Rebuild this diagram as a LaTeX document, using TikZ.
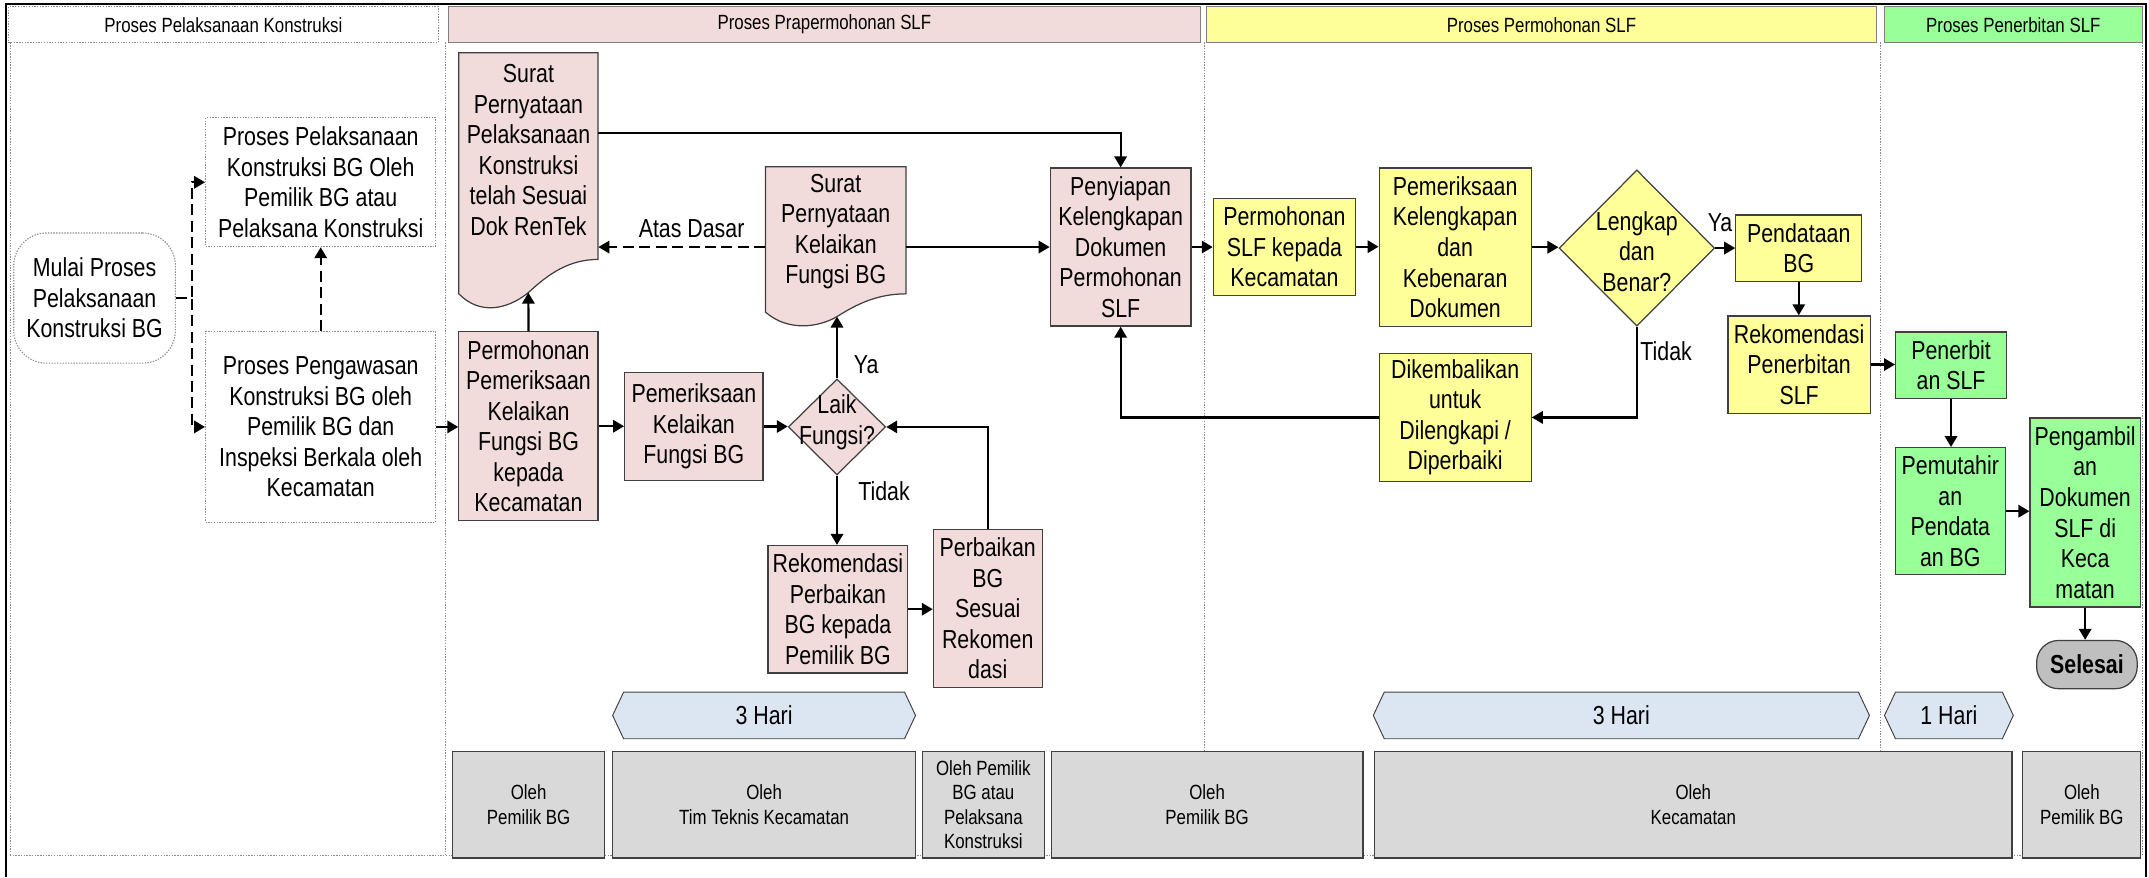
\documentclass[tikz,border=0pt]{standalone}
\usepackage{fontspec}
\setmainfont{Liberation Sans}[FakeStretch=0.82]
\usetikzlibrary{shapes.geometric,arrows.meta,calc}
\definecolor{pinkf}{HTML}{F2DCDB}
\definecolor{yelf}{HTML}{FFFF99}
\definecolor{grnf}{HTML}{99FF99}
\definecolor{grayf}{HTML}{D9D9D9}
\definecolor{hexf}{HTML}{DCE6F2}
\definecolor{bord}{HTML}{404040}
\definecolor{hdrbord}{HTML}{7F7F7F}
\definecolor{dotc}{HTML}{8C8C8C}
\definecolor{endf}{HTML}{BFBFBF}
\newcommand{\mainfs}{\fontsize{19}{22.3}\selectfont}
\newcommand{\smallfs}{\fontsize{15}{17.8}\selectfont}
\newcommand{\dayshape}[4]{%
  \filldraw[fill=hexf, draw=bord, line width=0.7pt]
    ({#1-#3/2},{#2}) -- ({#1-#3/2+8},{#2-#4/2}) -- ({#1+#3/2-8},{#2-#4/2}) --
    ({#1+#3/2},{#2}) -- ({#1+#3/2-8},{#2+#4/2}) -- ({#1-#3/2+8},{#2+#4/2}) -- cycle;}
\tikzset{
  box/.style={draw=bord, line width=0.9pt, align=center, inner sep=0pt, font=\mainfs},
  pbox/.style={box, fill=pinkf},
  ybox/.style={box, fill=yelf},
  gbox/.style={box, fill=grnf},
  dotbox/.style={draw=dotc, dash pattern=on 1pt off 1pt, line width=0.8pt, align=center, font=\mainfs, inner sep=0pt},
  hdr/.style={draw=hdrbord, line width=0.8pt, minimum height=26pt, inner sep=0pt, font=\smallfs},
  who/.style={draw=bord, fill=grayf, line width=0.8pt, minimum height=78pt, align=center, font=\smallfs, inner sep=0pt},
  lbl/.style={font=\mainfs, inner sep=0pt, align=center},
  dia/.style={shape=diamond, draw=bord, line width=0.9pt, inner sep=0pt},
  conn/.style={line width=1.6pt, -{Triangle[length=8pt,width=9pt]}},
  dconn/.style={line width=1.6pt, dash pattern=on 8pt off 4pt, -{Triangle[length=8pt,width=9pt]}},
  lanedot/.style={draw=dotc, line width=0.7pt, dash pattern=on 1pt off 1pt},
  docshape/.style={draw=bord, fill=pinkf, line width=0.9pt}
}
\begin{document}
\begin{tikzpicture}[x=1pt,y=-1pt]
\useasboundingbox (0,0) rectangle (1568,640);
% lane dotted lines
\draw[lanedot] (7.3,31) -- (7.3,624);
\draw[lanedot] (325,31) -- (325,624);
\draw[lanedot] (878.5,31) -- (878.5,624);
\draw[lanedot] (1372,31) -- (1372,624);
\draw[lanedot] (1563,31) -- (1563,624);
\draw[lanedot] (7.3,624) -- (1563,624);
% frame
\draw[line width=1.8pt] (4.4,640) -- (4.4,3) -- (1565.6,3) -- (1565.6,640);
% headers
\node[hdr, dotbox, font=\smallfs, minimum width=314pt, minimum height=26pt] (h1) at (163,18) {Proses Pelaksanaan Konstruksi};
\node[hdr, fill=pinkf, minimum width=549pt] (h2) at (601.5,18) {Proses Prapermohonan SLF};
\node[hdr, fill=yelf, minimum width=489.4pt] (h3) at (1124.7,18) {Proses Permohonan SLF};
\node[hdr, fill=grnf, minimum width=188.6pt] (h4) at (1469,18) {Proses Penerbitan SLF};
% lane 1
\node[dotbox, rounded corners=24pt, minimum width=118pt, minimum height=95pt] (mulai) at (69,217.5) {Mulai Proses\\Pelaksanaan\\Konstruksi BG};
\node[dotbox, minimum width=168pt, minimum height=94pt] (proses1) at (234,133) {Proses Pelaksanaan\\Konstruksi BG Oleh\\Pemilik BG atau\\Pelaksana Konstruksi};
\node[dotbox, minimum width=168pt, minimum height=139pt] (proses2) at (234,311.5) {Proses Pengawasan\\Konstruksi BG oleh\\Pemilik BG dan\\Inspeksi Berkala oleh\\Kecamatan};
% documents
\draw[docshape] (334.8,38.5) -- (436.4,38.5) -- (436.4,189.3)
  .. controls (415,189.3) and (400,200) .. (385.5,213.5)
  .. controls (370,226) and (350,230) .. (334.8,214.4) -- cycle;
\node[lbl, minimum width=101.6pt] (doc1) at (385.6,109.5) {Surat\\Pernyataan\\Pelaksanaan\\Konstruksi\\telah Sesuai\\Dok RenTek};
\coordinate (doc1wave) at (385.5,213.5);
\coordinate (doc1out) at (436.4,97.2);
\draw[docshape] (558.6,121.6) -- (661,121.6) -- (661,214.4)
  .. controls (640,214.4) and (625,222) .. (610.7,231)
  .. controls (597,239) and (575,242) .. (558.6,227.8) -- cycle;
\node[lbl, minimum width=102.4pt] (doc2) at (609.8,169) {Surat\\Pernyataan\\Kelaikan\\Fungsi BG};
\coordinate (doc2wave) at (610.7,231);
% lane 2 boxes
\node[pbox, minimum width=101.6pt, minimum height=138pt] (permohonan) at (385.6,311) {Permohonan\\Pemeriksaan\\Kelaikan\\Fungsi BG\\kepada\\Kecamatan};
\node[pbox, minimum width=100.9pt, minimum height=78.4pt] (periksa) at (506.25,311.2) {Pemeriksaan\\Kelaikan\\Fungsi BG};
\node[dia, fill=pinkf, minimum width=71pt, minimum height=70pt] (laik) at (610.7,311.5) {};
\node[lbl] (laiktxt) at (610.7,308) {Laik\\Fungsi?};
\node[pbox, minimum width=102pt, minimum height=93pt] (rekom) at (611.4,444.5) {Rekomendasi\\Perbaikan\\BG kepada\\Pemilik BG};
\node[pbox, minimum width=79.4pt, minimum height=115.2pt] (perbaikan) at (720.7,443.9) {Perbaikan\\BG\\Sesuai\\Rekomen\\dasi};
\node[pbox, minimum width=102.7pt, minimum height=115.3pt] (penyiapan) at (817.65,180.25) {Penyiapan\\Kelengkapan\\Dokumen\\Permohonan\\SLF};
% lane 3
\node[ybox, minimum width=103.8pt, minimum height=70.7pt] (slfkec) at (937.2,180) {Permohonan\\SLF kepada\\Kecamatan};
\node[ybox, minimum width=110.9pt, minimum height=115.6pt] (periksadok) at (1061.75,180.4) {Pemeriksaan\\Kelengkapan\\dan\\Kebenaran\\Dokumen};
\node[dia, fill=yelf, minimum width=113.5pt, minimum height=114pt] (lengkap) at (1194.3,181) {};
\node[lbl] (lengkaptxt) at (1194.3,183.5) {Lengkap\\dan\\Benar?};
\node[ybox, minimum width=91.9pt, minimum height=48.6pt] (pendataan) at (1312.45,181.1) {Pendataan\\BG};
\node[ybox, minimum width=103.8pt, minimum height=71pt] (rekpen) at (1312.7,266) {Rekomendasi\\Penerbitan\\SLF};
\node[ybox, minimum width=110.9pt, minimum height=93.1pt] (dikembalikan) at (1061.75,304.55) {Dikembalikan\\untuk\\Dilengkapi /\\Diperbaiki};
% lane 4
\node[gbox, minimum width=80.9pt, minimum height=48.6pt] (penerbit) at (1423.55,266.5) {Penerbit\\an SLF};
\node[gbox, minimum width=80pt, minimum height=92.8pt] (pemutahiran) at (1423,373) {Pemutahir\\an\\Pendata\\an BG};
\node[gbox, minimum width=80.4pt, minimum height=138pt] (pengambilan) at (1521.4,373.9) {Pengambil\\an\\Dokumen\\SLF di\\Keca\\matan};
\node[draw=bord, fill=endf, line width=0.9pt, rounded corners=16pt, minimum width=73.4pt, minimum height=35.2pt, inner sep=0pt, font=\mainfs\bfseries] (selesai) at (1522.7,484.9) {Selesai};
% labels
\node[lbl] (atas) at (504.6,166.5) {Atas Dasar};
\node[lbl] (ya1) at (632,266) {Ya};
\node[lbl] (tidak1) at (645,358.5) {Tidak};
\node[lbl] (ya2) at (1255,162.5) {Ya};
\node[lbl] (tidak2) at (1215.7,256.3) {Tidak};
% connectors lane 1
\draw[dconn] (mulai.east) -- ++(11.5,0) |- (proses1.west);
\draw[dconn] (mulai.east) -- ++(11.5,0) |- (proses2.west);
\draw[dconn] (proses2.north) -- (proses1.south);
\draw[conn] (proses2.east) -- (proses2.east -| permohonan.west);
% connectors lane 2
\draw[conn] (permohonan.north) -- (doc1wave);
\draw[conn] (permohonan.east) -- (permohonan.east -| periksa.west);
\draw[conn] (periksa.east) -- (periksa.east -| laik.west);
\draw[conn] (laik.north) -- (doc2wave);
\draw[conn] (laik.south) -- (laik.south |- rekom.north);
\draw[conn] (rekom.east) -- (rekom.east -| perbaikan.west);
\draw[conn] (perbaikan.north) |- (laik.east);
\draw[conn] (doc2.east |- penyiapan.west) -- (penyiapan.west);
\draw[dconn] (doc2.west |- penyiapan.west) -- (doc1.east |- penyiapan.west);
\draw[conn] (doc1out) -| (penyiapan.north);
% connectors lane 3
\draw[conn] (penyiapan.east) -- (penyiapan.east -| slfkec.west);
\draw[conn] (slfkec.east) -- (slfkec.east -| periksadok.west);
\draw[conn] (periksadok.east) -- (periksadok.east -| lengkap.west);
\draw[conn] (lengkap.east) -- (lengkap.east -| pendataan.west);
\draw[conn] (pendataan.south) -- (pendataan.south |- rekpen.north);
\draw[conn] (lengkap.south) |- (dikembalikan.east);
\draw[conn] (dikembalikan.west) -| (penyiapan.south);
% connectors lane 4
\draw[conn] (rekpen.east) -- (rekpen.east -| penerbit.west);
\draw[conn] (penerbit.south) -- (penerbit.south |- pemutahiran.north);
\draw[conn] (pemutahiran.east) -- (pemutahiran.east -| pengambilan.west);
\draw[conn] (pengambilan.south) -- (pengambilan.south |- selesai.north);
% durations
\dayshape{557.5}{522}{221}{34}
\node[lbl] (day1) at (557.5,522) {3 Hari};
\dayshape{1183}{522}{362}{34}
\node[lbl] (day2) at (1183,522) {3 Hari};
\dayshape{1422}{522}{94}{34}
\node[lbl] (day3) at (1422,522) {1 Hari};
% responsible
\node[who, minimum width=110.6pt] (w1) at (385.7,587) {Oleh\\Pemilik BG};
\node[who, minimum width=221pt] (w2) at (557.5,587) {Oleh\\Tim Teknis Kecamatan};
\node[who, minimum width=89pt] (w3) at (717.5,587) {Oleh Pemilik\\BG atau\\Pelaksana\\Konstruksi};
\node[who, minimum width=227.5pt] (w4) at (880.75,587) {Oleh\\Pemilik BG};
\node[who, minimum width=465pt] (w5) at (1235.5,587) {Oleh\\Kecamatan};
\node[who, minimum width=86pt] (w6) at (1519,587) {Oleh\\Pemilik BG};
\end{tikzpicture}
\end{document}
